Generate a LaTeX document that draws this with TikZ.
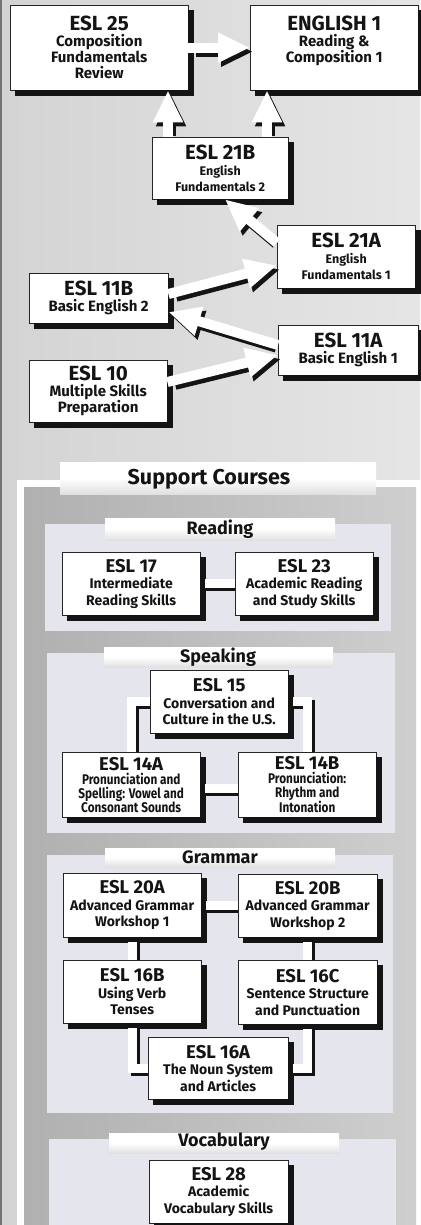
\documentclass[tikz,border=0pt]{standalone}
\usepackage{fontspec}
\setmainfont{Fira Sans}
\usetikzlibrary{arrows.meta,calc}
\definecolor{panel}{HTML}{E5E5EE}
\definecolor{shd}{HTML}{141414}
\definecolor{bord}{HTML}{262626}
\newcommand\ttl[1]{{\fontsize{20.5}{21}\selectfont #1}}
\newcommand\ttb[1]{{\fontsize{18.5}{19}\selectfont #1}}
\newcommand\sml[1]{{\fontsize{12.5}{14}\selectfont #1}}
\newcommand\cnd[1]{\scalebox{0.84}[1]{#1}}
\newcommand\fatarr[2]{%
  \draw[arrshadow] #1 -- #2;
  \draw[arrwhite] #1 -- #2;}
\newcommand\conn[1]{%
  \draw[conshadow] #1;
  \draw[conwhite] #1;}
% shadow node under a box: name, width, height
\newcommand\shadnode[3]{%
  \node[shadownode, minimum width=#2pt, minimum height=#3pt] (#1s) at ($(#1.center)+(5,5)$) {};}
% L-shaped shadow stroke along right and bottom sides of a box
\newcommand\shadline[1]{%
  \draw[shadowline] ($(#1.north east)+(0,2.5)$) -- (#1.south east) -- ($(#1.south west)+(2.5,0)$);}
\tikzset{
  geom/.style={anchor=north west, inner sep=0pt, draw=none, fill=none},
  shadownode/.style={anchor=center, inner sep=0pt, draw=shd, fill=shd, line width=0.5pt},
  shadowline/.style={draw=shd, line width=5pt, line join=miter,
    transform canvas={xshift=2.5pt,yshift=-2.5pt}},
  course/.style={draw=bord, line width=0.7pt, fill=white, anchor=center,
    align=center, inner sep=0pt, text=shd, font=\bfseries\fontsize{15}{16}\selectfont},
  lcourse/.style={course, font=\bfseries\fontsize{14}{16.5}\selectfont},
  arrshadow/.style={line width=10pt, draw=shd, transform canvas={xshift=3pt,yshift=-4pt}, shorten <=5pt,
    -{Triangle[width=28pt,length=32pt,fill=shd]}},
  arrwhite/.style={line width=10pt, draw=white, -{Triangle[width=28pt,length=32pt,fill=white]}},
  conshadow/.style={line width=9pt, draw=shd, transform canvas={xshift=3pt,yshift=-3pt}},
  conwhite/.style={line width=9pt, draw=white},
  tab/.style={top color=white, bottom color=black!12, middle color=white},
  tabtext/.style={font=\bfseries\fontsize{18}{19}\selectfont, inner sep=0pt, text=shd},
}
\begin{document}
\begin{tikzpicture}[x=1pt,y=-1pt]
\useasboundingbox (0,0) rectangle (420,1225);
% backgrounds
\shade[left color=black!17, right color=black!10] (0,0) rectangle (420,1225);
\draw[black!55, line width=1.5pt] (0.75,0) -- (0.75,1225);
\fill[white] (17,480) rectangle (420,1225);
\shade[left color=black!31, right color=black!19] (24,487) rectangle (416,1225);
\shade[tab] (60,462) rectangle (376,494);
\fill[panel] (45,524) rectangle (391,631);
\shade[tab] (105,518) rectangle (335,540);
\fill[panel] (47,653) rectangle (395,833);
\shade[tab] (104,647) rectangle (333,667);
\fill[panel] (47,855) rectangle (393,1113);
\shade[tab] (105,848) rectangle (335,867);
\fill[panel] (49,1139) rectangle (396,1225);
\shade[tab] (109,1133) rectangle (339,1153);
\node[font=\bfseries\fontsize{21.5}{22}\selectfont, inner sep=0pt, text=shd] (sc) at (209,479) {Support Courses};
\node[tabtext] (tr) at (220,529) {Reading};
\node[tabtext] (ts) at (218,657) {Speaking};
\node[tabtext] (tg) at (220,857) {Grammar};
\node[tabtext] (tv) at (224,1142) {Vocabulary};

% box geometry (pass 1)
\node[geom, minimum width=178pt, minimum height=85pt] (e25) at (10,5) {};
\node[geom, minimum width=168pt, minimum height=85pt] (e1) at (250,5) {};
\node[geom, minimum width=136pt, minimum height=62pt] (e21b) at (152,137) {};
\node[geom, minimum width=138pt, minimum height=63pt] (e21a) at (277,225) {};
\node[geom, minimum width=139pt, minimum height=50pt] (e11b) at (29,273) {};
\node[geom, minimum width=140pt, minimum height=50pt] (e11a) at (278,325) {};
\node[geom, minimum width=138pt, minimum height=62pt] (e10) at (29,360) {};
\node[geom, minimum width=138pt, minimum height=63pt] (r17) at (62,552) {};
\node[geom, minimum width=138pt, minimum height=63pt] (r23) at (235,552) {};
\node[geom, minimum width=138pt, minimum height=63pt] (s15) at (150,670) {};
\node[geom, minimum width=138pt, minimum height=65pt] (s14a) at (62,752) {};
\node[geom, minimum width=138pt, minimum height=65pt] (s14b) at (238,752) {};
\node[geom, minimum width=138pt, minimum height=64pt] (g20a) at (63,873) {};
\node[geom, minimum width=139pt, minimum height=63pt] (g20b) at (238,874) {};
\node[geom, minimum width=138pt, minimum height=63pt] (g16b) at (63,960) {};
\node[geom, minimum width=139pt, minimum height=64pt] (g16c) at (238,960) {};
\node[geom, minimum width=140pt, minimum height=62pt] (g16a) at (148,1037) {};
\node[geom, minimum width=139pt, minimum height=63pt] (v28) at (149,1160) {};

% drop shadows as filled nodes
\shadnode{e25}{178}{85}
\shadnode{e1}{168}{85}
\shadnode{e21b}{136}{62}
\shadnode{e21a}{138}{63}
\shadnode{e11b}{139}{50}
\shadnode{e11a}{140}{50}
\shadnode{e10}{138}{62}
\shadnode{r17}{138}{63}
\shadnode{r23}{138}{63}
\shadnode{s15}{138}{63}
\shadnode{s14a}{138}{65}
\shadnode{s14b}{138}{65}
\shadnode{g20a}{138}{64}
\shadnode{g20b}{139}{63}
\shadnode{g16b}{138}{63}
\shadnode{g16c}{139}{64}
\shadnode{g16a}{140}{62}
\shadnode{v28}{139}{63}

% connectors
\conn{(r17.east) -- (r23.west)}
\conn{(s15.west) -| (s14a.north)}
\conn{(s15.east) -| (s14b.north)}
\conn{($(s14a.east)+(0,4)$) -- ($(s14b.west)+(0,4)$)}
\conn{(g20a.east) -- (g20a.east -| g20b.west)}
\conn{(g20a.south) -- (g16b.north)}
\conn{(g20b.south) -- (g20b.south |- g16c.north)}
\conn{(g16b.south) |- (g16a.west)}
\conn{(g16c.south) |- (g16a.east)}

% visible boxes (pass 2)
\node[course, minimum width=178pt, minimum height=85pt] (e25t) at (e25.center) {\ttl{ESL 25}\\Composition\\Fundamentals\\Review};
\node[course, minimum width=168pt, minimum height=85pt] (e1t) at (e1.center) {\ttl{ENGLISH 1}\\Reading \&\\Composition 1\\ ~};
\node[course, minimum width=136pt, minimum height=62pt] (e21bt) at (e21b.center) {\ttl{ESL 21B}\\\sml{English}\\\sml{Fundamentals 2}};
\node[course, minimum width=138pt, minimum height=63pt] (e21at) at (e21a.center) {\ttl{ESL 21A}\\\sml{English}\\\sml{Fundamentals 1}};
\node[course, minimum width=139pt, minimum height=50pt] (e11bt) at (e11b.center) {\ttl{ESL 11B}\\Basic English 2};
\node[course, minimum width=140pt, minimum height=50pt] (e11at) at (e11a.center) {\ttl{ESL 11A}\\Basic English 1};
\node[course, minimum width=138pt, minimum height=62pt] (e10t) at (e10.center) {\ttl{ESL 10}\\Multiple Skills\\Preparation};

\node[lcourse, minimum width=138pt, minimum height=63pt] (r17t) at (r17.center) {\ttb{ESL 17}\\Intermediate\\Reading Skills};
\node[lcourse, minimum width=138pt, minimum height=63pt] (r23t) at (r23.center) {\ttb{ESL 23}\\Academic Reading\\and Study Skills};
\node[lcourse, minimum width=138pt, minimum height=63pt] (s15t) at (s15.center) {\ttb{ESL 15}\\Conversation and\\Culture in the U.S.};
\node[lcourse, minimum width=138pt, minimum height=65pt, font=\bfseries\fontsize{14}{14}\selectfont] (s14at) at (s14a.center) {\ttb{ESL 14A}\\\cnd{Pronunciation and}\\\cnd{Spelling: Vowel and}\\\cnd{Consonant Sounds}};
\node[lcourse, minimum width=138pt, minimum height=65pt, font=\bfseries\fontsize{14}{14}\selectfont] (s14bt) at (s14b.center) {\ttb{ESL 14B}\\\cnd{Pronunciation:}\\\cnd{Rhythm and}\\\cnd{Intonation}};
\node[lcourse, minimum width=138pt, minimum height=64pt] (g20at) at (g20a.center) {\ttb{ESL 20A}\\Advanced Grammar\\Workshop 1};
\node[lcourse, minimum width=139pt, minimum height=63pt] (g20bt) at (g20b.center) {\ttb{ESL 20B}\\Advanced Grammar\\Workshop 2};
\node[lcourse, minimum width=138pt, minimum height=63pt] (g16bt) at (g16b.center) {\ttb{ESL 16B}\\Using Verb\\Tenses};
\node[lcourse, minimum width=139pt, minimum height=64pt] (g16ct) at (g16c.center) {\ttb{ESL 16C}\\Sentence Structure\\and Punctuation};
\node[lcourse, minimum width=140pt, minimum height=62pt] (g16at) at (g16a.center) {\ttb{ESL 16A}\\The Noun System\\and Articles};
\node[lcourse, minimum width=139pt, minimum height=63pt] (v28t) at (v28.center) {\ttb{ESL 28}\\Academic\\Vocabulary Skills};

% shadow strokes along right and bottom sides (drawn like the arrow shadows)
\foreach \n in {e25,e1,e21b,e21a,e11b,e11a,e10,r17,r23,s15,s14a,s14b,g20a,g20b,g16b,g16c,g16a,v28} {\shadline{\n}}

% fat arrows
\fatarr{(e25.east)}{(e1.west)}
\fatarr{($(e21b.north west)+(16,0)$)}{($(e25.south west)+(158,0)$)}
\fatarr{($(e21b.north west)+(115,0)$)}{($(e1.south west)+(17,0)$)}
\fatarr{($(e21a.north west)+(0,18)$)}{($(e21b.south west)+(73,0)$)}
\fatarr{($(e11b.north east)+(0,21)$)}{($(e21a.south west)+(0,-23)$)}
\fatarr{($(e11a.north west)+(0,20)$)}{($(e11b.north east)+(0,39)$)}
\fatarr{($(e10.north east)+(0,22)$)}{($(e11a.north west)+(0,30)$)}
\end{tikzpicture}
\end{document}
